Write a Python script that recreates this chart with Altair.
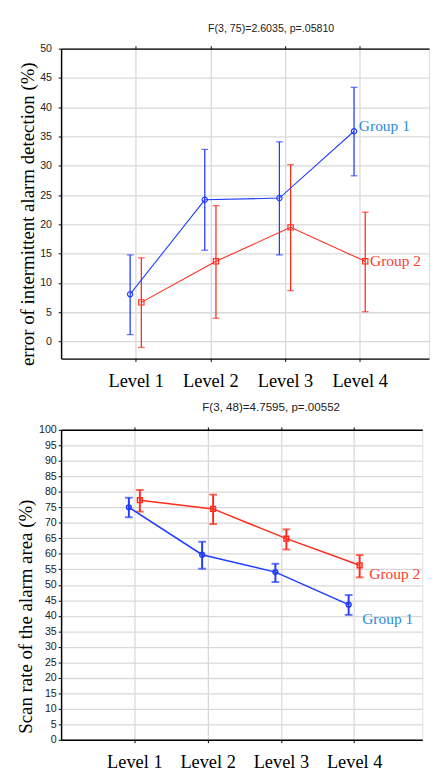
import altair as alt
import pandas as pd

levels = ["Level 1", "Level 2", "Level 3", "Level 4"]
groups = ["Group 1", "Group 2"]

# Panel 1: error of intermittent alarm detection (%)
err_title = "F(3, 75)=2.6035, p=.05810"
err_ytitle = "error of intermittent alarm detection (%)"
err_g1_mean = [8.1, 24.2, 24.5, 35.9]
err_g1_low = [1.2, 15.6, 14.8, 28.3]
err_g1_high = [14.8, 32.8, 34.1, 43.4]
err_g2_mean = [6.7, 13.7, 19.5, 13.7]
err_g2_low = [-1.0, 4.0, 8.7, 5.1]
err_g2_high = [14.3, 23.2, 30.2, 22.1]
err_ticks = [0, 5, 10, 15, 20, 25, 30, 35, 40, 45, 50]

# Panel 2: scan rate of the alarm area (%)
scan_title = "F(3, 48)=4.7595, p=.00552"
scan_ytitle = "Scan rate of the alarm area (%)"
scan_g1_mean = [75.0, 59.7, 54.1, 43.6]
scan_g1_low = [71.8, 55.2, 50.9, 40.3]
scan_g1_high = [78.1, 63.9, 56.8, 46.7]
scan_g2_mean = [77.3, 74.5, 64.9, 56.3]
scan_g2_low = [73.6, 69.6, 61.4, 52.4]
scan_g2_high = [80.6, 79.1, 67.9, 59.6]
scan_ticks = [0, 5, 10, 15, 20, 25, 30, 35, 40, 45, 50,
              55, 60, 65, 70, 75, 80, 85, 90, 95, 100]

BLUE = "#1f3cff"
RED = "#ff2b1c"
LBLUE = "#2a8bd5"
LRED = "#ff3a2e"
GRID = "#d9d9d9"
SERIF = "Liberation Serif"
SANS = "Liberation Sans"

label_expr = "[" + ",".join("'%s'" % l for l in levels) + "][datum.value - 1]"


def frame(g1m, g1l, g1h, g2m, g2l, g2h):
    rows = []
    for gi, (m, lo, hi) in enumerate([(g1m, g1l, g1h), (g2m, g2l, g2h)]):
        for i, lev in enumerate(levels):
            rows.append({"level": lev, "idx": i + 1, "group": groups[gi],
                         "mean": m[i], "low": lo[i], "high": hi[i]})
    return pd.DataFrame(rows)


def panel(df, width, height, ydomain, yticks, ytitle, title, title_size,
          title_dx, title_offset, y_lp, y_tp, title_y, spacer_x, lw, ebw,
          capw, msize, mstroke, lab_off, x_lp):
    xscale = alt.Scale(domain=[0, 4.93], nice=False, zero=False)
    yscale = alt.Scale(domain=ydomain, nice=False, zero=False)
    yaxis = alt.Axis(values=yticks, grid=True, gridColor=GRID, gridWidth=1.3,
                     tickSize=3, tickColor="black", labelPadding=y_lp,
                     labelFont=SANS, labelFontSize=11, labelColor="#222",
                     domainColor="black", domainWidth=1.5, titleFont=SERIF,
                     titleFontSize=19.5, titleFontWeight="normal",
                     titleColor="black", titlePadding=y_tp, titleY=title_y)
    xaxis_bottom = alt.Axis(orient="bottom", values=[1, 2, 3, 4],
                            labelExpr=label_expr, grid=True, gridColor=GRID,
                            gridWidth=1.3, tickSize=3, tickColor="black",
                            labelPadding=x_lp, labelFont=SERIF,
                            labelFontSize=19, labelColor="black",
                            domainColor="black", domainWidth=1.5, title=None)
    xaxis_top = alt.Axis(orient="top", values=[1, 2, 3, 4], labels=False,
                         grid=False, tickSize=3, tickColor="black",
                         domainColor="black", domainWidth=1.5, title=None)

    base = alt.Chart(df).transform_calculate(
        xpos="datum.idx + (datum.group == '%s' ? -0.075 : 0.075)" % groups[0])
    color = alt.Color("group:N", scale=alt.Scale(domain=groups, range=[BLUE, RED]),
                      legend=None)

    def X(axis):
        return alt.X("xpos:Q", scale=xscale, axis=axis)

    def Y(field):
        return alt.Y(field, type="quantitative", scale=yscale, axis=yaxis,
                     title=ytitle)

    err = base.mark_rule(strokeWidth=ebw).encode(
        x=X(xaxis_bottom), y=Y("low"), y2="high:Q", color=color)
    cap_lo = base.mark_tick(orient="horizontal", size=capw, thickness=ebw).encode(
        x=X(None), y=Y("low"), color=color)
    cap_hi = base.mark_tick(orient="horizontal", size=capw, thickness=ebw).encode(
        x=X(None), y=Y("high"), color=color)
    line = base.mark_line(strokeWidth=lw).encode(
        x=X(xaxis_top), y=Y("mean"), color=color)
    pts = base.mark_point(filled=False, size=msize, strokeWidth=mstroke,
                          opacity=1).encode(
        x=X(None), y=Y("mean"), color=color,
        shape=alt.Shape("group:N", scale=alt.Scale(domain=groups,
                                                   range=["circle", "square"]),
                        legend=None))
    labs = []
    for g, col, (dx, dy) in zip(groups, [LBLUE, LRED], lab_off):
        labs.append(
            base.transform_filter(
                "datum.level == '%s' && datum.group == '%s'" % (levels[-1], g))
            .mark_text(align="left", baseline="middle", dx=dx, dy=dy,
                       font=SERIF, fontSize=16, color=col)
            .encode(x=X(None), y=Y("mean"), text="group:N"))
    spacer = alt.Chart(df).mark_rule(opacity=0).encode(
        x=alt.value(spacer_x), y=alt.value(0), y2=alt.value(1))

    return alt.layer(err, cap_lo, cap_hi, line, pts, *labs, spacer).resolve_axis(
        x="independent").properties(
        width=width, height=height,
        title=alt.TitleParams(title, font=SANS, fontSize=title_size,
                              fontWeight="normal", color="#222",
                              anchor="middle", frame="group", dx=title_dx,
                              offset=title_offset))


df_err = frame(err_g1_mean, err_g1_low, err_g1_high,
               err_g2_mean, err_g2_low, err_g2_high)
df_scan = frame(scan_g1_mean, scan_g1_low, scan_g1_high,
                scan_g2_mean, scan_g2_low, scan_g2_high)

top = panel(df_err, width=381, height=321, ydomain=[-2.9, 50], yticks=err_ticks,
            ytitle=err_ytitle, title=err_title, title_size=11, title_dx=27,
            title_offset=9.5, y_lp=7, y_tp=2.8, title_y=171, spacer_x=-46,
            lw=1.1, ebw=1.3, capw=7, msize=30, mstroke=1.2,
            lab_off=[(5, -5.5), (5, 0)], x_lp=11)
bottom = panel(df_scan, width=374, height=321, ydomain=[0, 100],
               yticks=scan_ticks, ytitle=scan_ytitle, title=scan_title,
               title_size=12, title_dx=30.5, title_offset=10, y_lp=2, y_tp=3.2,
               title_y=193, spacer_x=-53, lw=1.6, ebw=2, capw=8, msize=25,
               mstroke=1.5, lab_off=[(14, 15.5), (10, 9)], x_lp=11)

chart = alt.concat(top, bottom, columns=1, spacing=9.75, align="none").properties(
    padding={"left": 1, "top": 1.25, "right": 0, "bottom": 0}
).configure_view(strokeWidth=0).configure(background="white")

chart.save("out.html", embed_options={"renderer": "svg", "actions": False})
